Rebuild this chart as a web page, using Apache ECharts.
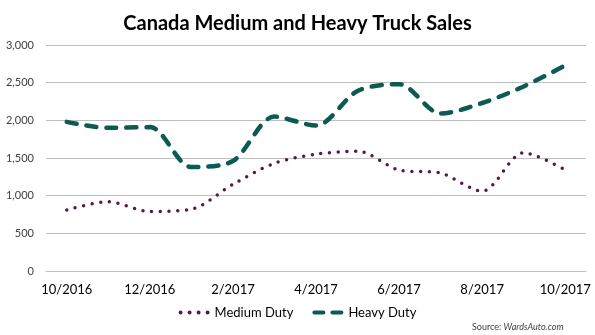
<!DOCTYPE html>
<html>
<head>
<meta charset="utf-8">
<script src="https://cdn.jsdelivr.net/npm/echarts@6/dist/echarts.min.js"></script>
<style>html,body{margin:0;padding:0;background:#fff}#c{width:595px;height:335px}</style>
</head>
<body>
<div id="c"></div>
<script>
var categories = ['10/2016','11/2016','12/2016','1/2017','2/2017','3/2017','4/2017','5/2017','6/2017','7/2017','8/2017','9/2017','10/2017'];
var mediumDuty = [810, 920, 790, 820, 1150, 1430, 1550, 1590, 1340, 1300, 1060, 1570, 1340];
var heavyDuty = [1980, 1900, 1910, 1380, 1460, 2050, 1930, 2390, 2480, 2090, 2230, 2450, 2730];
var yTicks = {min: 0, max: 3000, interval: 500};

var FONT = 'Lato, "Open Sans", sans-serif';
var DOTS_ICON = 'path://M0,2A2,2,0,1,1,4,2A2,2,0,1,1,0,2Z M9,2A2,2,0,1,1,13,2A2,2,0,1,1,9,2Z M18,2A2,2,0,1,1,22,2A2,2,0,1,1,18,2Z M27,2A2,2,0,1,1,31,2A2,2,0,1,1,27,2Z';
var DASH_ICON = 'path://M2,0L11,0A2,2,0,0,1,11,4L2,4A2,2,0,0,1,2,0Z M20,0L29,0A2,2,0,0,1,29,4L20,4A2,2,0,0,1,20,0Z';
var chart = echarts.init(document.getElementById('c'), null, {renderer: 'canvas'});
chart.setOption({
  animation: false,
  backgroundColor: '#fff',
  title: [{
    text: 'Canada Medium and Heavy Truck Sales',
    left: 'center', top: 9,
    textStyle: {fontFamily: FONT, fontSize: 20, fontWeight: 'bold', color: '#000'}
  }, {
    text: 'Source: {i|WardsAuto.com}',
    left: 467, top: 318,
    textStyle: {fontFamily: FONT, fontSize: 9, fontWeight: 'normal', color: '#404040',
      rich: {i: {fontFamily: FONT, fontSize: 9, fontStyle: 'italic', color: '#404040'}}}
  }],
  grid: {left: 46, right: 9, top: 45, bottom: 64, containLabel: false},
  legend: {
    bottom: 11, left: 'center', itemGap: 19, itemWidth: 31, itemHeight: 4,
    textStyle: {fontFamily: FONT, fontSize: 13, color: '#000'},
    data: [
      {name: 'Medium Duty', icon: DOTS_ICON},
      {name: 'Heavy Duty', icon: DASH_ICON}
    ]
  },
  xAxis: {
    type: 'category', data: categories, boundaryGap: true,
    axisTick: {show: false},
    axisLine: {lineStyle: {color: '#BFBFBF'}},
    axisLabel: {interval: 1, color: '#000', fontFamily: FONT, fontSize: 13, margin: 12}
  },
  yAxis: {
    type: 'value', min: yTicks.min, max: yTicks.max, interval: yTicks.interval,
    axisLine: {show: false}, axisTick: {show: false},
    splitLine: {lineStyle: {color: '#BFBFBF', width: 1}},
    axisLabel: {color: '#404040', fontFamily: FONT, fontSize: 11, margin: 12,
      formatter: function (v) { return v.toLocaleString('en-US'); }}
  },
  series: [{
    name: 'Medium Duty', type: 'line', data: mediumDuty, smooth: 0.3,
    symbol: 'none', showSymbol: false,
    itemStyle: {color: '#5E1349'},
    lineStyle: {color: '#5E1349', width: 3.5, type: [0, 8.7], cap: 'round'}
  }, {
    name: 'Heavy Duty', type: 'line', data: heavyDuty, smooth: 0.3,
    symbol: 'none', showSymbol: false,
    itemStyle: {color: '#0B5B52'},
    lineStyle: {color: '#0B5B52', width: 4.5, type: [10, 10], cap: 'round'}
  }]
});
</script>
</body>
</html>
